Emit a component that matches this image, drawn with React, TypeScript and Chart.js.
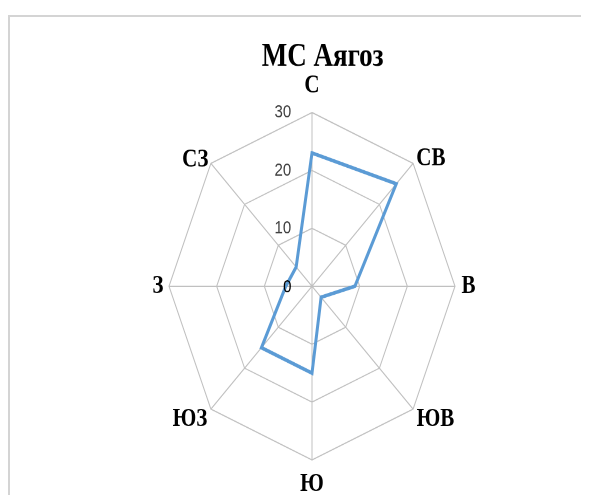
import React, { useEffect, useRef } from 'react';
import { Chart, registerables } from 'chart.js';

Chart.register(...registerables);

const chartTitle = 'МС Аягоз';
const categories = ['С', 'СВ', 'В', 'ЮВ', 'Ю', 'ЮЗ', 'З', 'СЗ'];
const seriesValues = [23, 25, 9, 2.7, 15, 15, 5.5, 4.7];
const tickMin = 0;
const tickMax = 30;
const tickStep = 10;

const SCALE_Y = 1.215;
const TICK_COLOR = '#404040';
const TICK_FONT = { family: '"Liberation Sans", Arial, sans-serif', size: 15 };
const LABEL_PADDING = [2, -5, -3, -4.5, 0, -4.5, -4, -6];
const LABEL_LINE_HEIGHT = [1, 0.05, 1, 0.45, 1, 0.45, 1, 0.05];

const zeroLabel = {
  id: 'zeroLabel',
  afterDatasetsDraw(chart: any) {
    const r = chart.scales.r;
    const ctx = chart.ctx;
    const p = r.getPointPositionForValue(0, tickMin);
    ctx.save();
    ctx.font = `${TICK_FONT.size}px ${TICK_FONT.family}`;
    ctx.fillStyle = '#000000';
    ctx.textAlign = 'right';
    ctx.textBaseline = 'middle';
    ctx.fillText(String(tickMin), p.x - 20.5, p.y + 1);
    ctx.restore();
  },
};

export default function App() {
  const ref = useRef<HTMLCanvasElement>(null);

  useEffect(() => {
    const chart = new Chart(ref.current as HTMLCanvasElement, {
      type: 'radar',
      data: {
        labels: categories,
        datasets: [
          {
            data: seriesValues,
            borderColor: '#5b9bd5',
            borderWidth: 3,
            pointRadius: 0,
            pointHoverRadius: 0,
            fill: false,
            tension: 0,
          },
        ],
      },
      options: {
        animation: false,
        responsive: true,
        maintainAspectRatio: false,
        devicePixelRatio: 2,
        layout: { padding: { left: 28, right: 0, top: 0, bottom: 0 } },
        plugins: {
          legend: { display: false },
          tooltip: { enabled: false },
          title: {
            display: true,
            text: '   ' + chartTitle,
            color: '#000000',
            font: { family: '"Liberation Serif", "Times New Roman", serif', size: 27, weight: 'bold', lineHeight: 1 },
            padding: { top: 27, bottom: -1.5 },
          },
        },
        scales: {
          r: {
            min: tickMin,
            max: tickMax,
            ticks: {
              stepSize: tickStep,
              showLabelBackdrop: false,
              color: TICK_COLOR,
              font: TICK_FONT,
              callback: (v: any) => String(v) + ' '.repeat(14),
            },
            grid: { color: '#c0c0c0', lineWidth: 1 },
            angleLines: { color: '#c0c0c0', lineWidth: 1 },
            pointLabels: {
              color: '#000000',
              font: (ctx: any) => ({
                family: '"Liberation Serif", "Times New Roman", serif',
                size: 21,
                weight: 'bold',
                lineHeight: LABEL_LINE_HEIGHT[ctx.index],
              }),
              padding: (ctx: any) => LABEL_PADDING[ctx.index],
            },
          },
        },
      } as any,
      plugins: [zeroLabel],
    });
    return () => chart.destroy();
  }, []);

  return (
    <div style={{ position: 'relative', width: 581, height: 487, overflow: 'hidden', background: '#ffffff' }}>
      <div
        style={{
          position: 'absolute',
          left: 0,
          top: 7,
          width: 700,
          height: 700,
          borderTop: '2px solid #d4d4d4',
          borderLeft: '2px solid #d4d4d4',
        }}
      />
      <div
        style={{
          position: 'absolute',
          left: 0,
          top: 0,
          width: 581,
          height: 404,
          transform: `scaleY(${SCALE_Y})`,
          transformOrigin: '0 0',
        }}
      >
        <canvas ref={ref} />
      </div>
    </div>
  );
}
